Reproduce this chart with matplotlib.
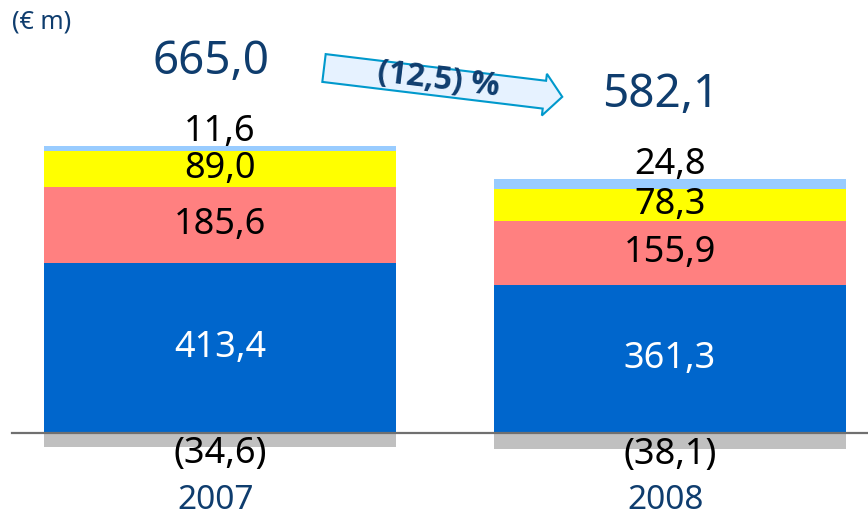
import numpy as np
import matplotlib
matplotlib.use("Agg")
import matplotlib.pyplot as plt
from matplotlib.patches import Polygon

plt.rcParams["font.family"] = ["Noto Sans", "DejaVu Sans"]

years = ["2007", "2008"]
blue_vals = [413.4, 361.3]
red_vals = [185.6, 155.9]
yellow_vals = [89.0, 78.3]
light_vals = [11.6, 24.8]
neg_vals = [-34.6, -38.1]
totals = ["665,0", "582,1"]
change_label = "(12,5) %"

navy = "#0F3D6E"

def fmt(v):
    s = f"{abs(v):.1f}".replace(".", ",")
    return f"({s})" if v < 0 else s

W, H = 868, 519
fig = plt.figure(figsize=(W / 100, H / 100), dpi=100)
ax = fig.add_axes([0, 0, 1, 1])
ax.set_xlim(-0.489, 1.44)
ax.set_ylim(-209.8, 1056)
ax.axis("off")

x = np.arange(len(years))
bw = 0.782
blue = np.array(blue_vals)
red = np.array(red_vals)
yel = np.array(yellow_vals)
lig = np.array(light_vals)
neg = np.array(neg_vals)

ax.bar(x, neg, bw, color="#C0C0C0", zorder=2)
ax.bar(x, blue, bw, color="#0066CC", zorder=2)
ax.bar(x, red, bw, bottom=blue, color="#FF8080", zorder=2)
ax.bar(x, yel, bw, bottom=blue + red, color="#FFFF00", zorder=2)
ax.bar(x, lig, bw, bottom=blue + red + yel, color="#99CCFF", zorder=2)

# baseline
ax.plot([12 / 450 - 0.489, 1.44], [0, 0], color="#707070", lw=1.6, zorder=3)

top = blue + red + yel + lig
fs = 26
for i in range(len(years)):
    ax.text(x[i], blue[i] / 2, fmt(blue[i]), ha="center", va="center",
            fontsize=fs, color="white", zorder=4)
    ax.text(x[i], blue[i] + red[i] / 2, fmt(red[i]), ha="center", va="center",
            fontsize=fs, color="black", zorder=4)
    ax.text(x[i], blue[i] + red[i] + yel[i] / 2, fmt(yel[i]), ha="center",
            va="center", fontsize=fs, color="black", zorder=4)
    ax.text(x[i], top[i] + 34, fmt(lig[i]), ha="center", va="center",
            fontsize=fs, color="black", zorder=4)
    ax.text(x[i], neg[i] - 16, fmt(neg[i]), ha="center", va="center",
            fontsize=fs, color="black", zorder=4)
    ax.text(x[i] - 0.02, top[i] + 205, totals[i], ha="center", va="center",
            fontsize=33, color=navy, zorder=4)
    ax.text(x[i] - 0.01, -165, years[i], ha="center", va="center",
            fontsize=24, color=navy, zorder=4)

fig.text(12 / W, 1 - 22 / H, "(€ m)", ha="left", va="center",
         fontsize=18, color=navy)

# change arrow (pixel geometry -> figure fraction)
ang = np.deg2rad(6.9)
L, hl, bh, hh = 240, 18, 14, 21
local = np.array([(0, -bh), (L - hl, -bh), (L - hl, -hh), (L, 0),
                  (L - hl, hh), (L - hl, bh), (0, bh)], dtype=float)
rot = np.array([[np.cos(ang), -np.sin(ang)], [np.sin(ang), np.cos(ang)]])
pts = local @ rot.T + np.array([324, 68])
pts_fig = np.column_stack([pts[:, 0] / W, 1 - pts[:, 1] / H])
arrow = Polygon(pts_fig, closed=True, transform=fig.transFigure,
                facecolor="#E6F2FF", edgecolor="#0099CC", lw=1.5)
fig.patches.append(arrow)
fig.text(438 / W, 1 - 80 / H, change_label, ha="center", va="center",
         fontsize=23, fontweight="bold", family=["Open Sans", "DejaVu Sans"],
         color=navy, rotation=-6.9)

fig.savefig("out.png", dpi=100)
